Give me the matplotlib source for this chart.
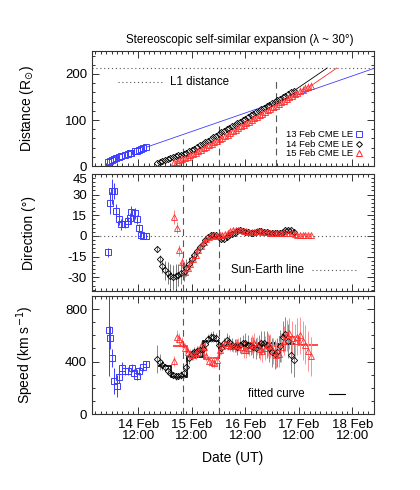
import numpy as np
import matplotlib
matplotlib.use("Agg")
import matplotlib.pyplot as plt
from matplotlib.ticker import MultipleLocator, FixedLocator, NullFormatter

plt.rcParams['font.family'] = ['Liberation Sans', 'DejaVu Sans']

# time axis in days from 13 Feb 00:00 UT
tick_days = [1.5, 2.5, 3.5, 4.5, 5.5]
tick_names = ['14 Feb\n12:00', '15 Feb\n12:00', '16 Feb\n12:00', '17 Feb\n12:00', '18 Feb\n12:00']

# 13 Feb CME (blue squares)
blue_t = [0.926, 0.963, 1.00, 1.04, 1.09, 1.14, 1.18, 1.25, 1.30, 1.34, 1.37, 1.44, 1.47, 1.51, 1.55, 1.59, 1.65]
blue_dist = [8, 11, 13, 15, 17, 19, 21, 23.5, 26, 28, 29.5, 32, 33.5, 35.5, 37, 39, 41]
blue_dir = [-12, 24, 32.5, 32.5, 18, 12, 8.5, 8.5, 11, 13, 17.5, 16.5, 12, 6, 1, 0, 0]
blue_dir_err = [3, 8, 9, 6, 5, 4, 4, 3, 3, 4, 4, 4, 3, 3, 2, 2, 2]
blue_vt = [0.945, 0.975, 1.017, 1.055, 1.10, 1.143, 1.193, 1.255, 1.317, 1.38, 1.423, 1.473, 1.522, 1.585, 1.647]
blue_speed = [642, 583, 425, 252, 216, 285, 354, 331, 328, 349, 311, 293, 328, 361, 380]
blue_speed_err = [350, 90, 70, 100, 85, 50, 40, 30, 30, 30, 30, 35, 30, 30, 25]

# 14 Feb CME (black diamonds), 1.2 h cadence from 1.85
black_t0, black_dt = 1.85, 0.05
black_dist = [7, 9.5, 12, 14, 16, 18, 20, 22, 23.5, 25, 27, 29.5, 32, 35, 38, 41.5, 45, 48.5,
              52, 55.5, 59, 62.5, 66, 69.5, 73, 76, 79.5, 83, 86, 89.5, 93, 96, 99.5, 103, 106.5,
              110, 113, 116.5, 120, 123, 126.5, 130, 133, 136.5, 140, 143, 146.5, 150, 153, 156.5,
              160, 163]
black_dir = [-9.6, -17, -22, -25, -27, -29, -30, -29, -28, -27, -26, -23, -20, -17, -14, -11, -8,
             -5.5, -3, -1, 0.5, 1, 0.5, -1, -2.5, -2, -1, 0.5, 1.5, 2.5, 3.5, 4, 3.5, 3, 3, 2.5,
             2.5, 3, 3.5, 3.5, 3, 3, 2.5, 2.5, 2, 2, 2.5, 3, 4, 4.5, 4, 3]
black_dir_err = [2, 3, 5, 7, 8, 9, 9, 9, 8, 8, 7, 6, 5, 4, 3, 3, 2, 2, 2, 1.5, 1.5, 1.5, 1.5, 1.5,
                 1.5, 1.5, 1.5, 1.5, 1.5, 1.5, 1.5, 1.5, 1.5, 1.5, 1.5, 1.5, 1.5, 1.5, 1.5, 1.5,
                 1.5, 1.5, 1.5, 1.5, 1.5, 1.5, 1.5, 1.5, 1.5, 1.5, 1.5, 1.5]
black_speed = [420, 395, 375, 355, 330, 310, 298, 287, 290, 296, 310, 360, 425, 455, 472, 480,
               485, 498, 535, 570, 588, 590, 580, 527, 500, 540, 565, 552, 530, 520, 510, 525,
               540, 545, 530, 520, 510, 500, 515, 540, 545, 530, 500, 470, 455, 470, 520, 590,
               610, 560, 450, 410]
black_speed_err = [110, 60, 40, 30, 30, 25, 25, 25, 25, 30, 35, 40, 40, 40, 40, 40, 40, 40, 40,
                   40, 40, 40, 40, 40, 40, 40, 50, 50, 50, 50, 60, 60, 60, 70, 70, 70, 80, 80, 90,
                   90, 90, 100, 100, 110, 110, 110, 120, 120, 130, 130, 140, 130]

# 15 Feb CME (red triangles), 1.2 h cadence from 2.17
red_t0, red_dt = 2.17, 0.05
red_dist = [8, 10, 12.5, 15, 17.5, 20.5, 23.5, 26.5, 29.5, 32.5, 35.5, 38.5, 41.5, 45, 48.5, 52,
            55, 58, 61.5, 65, 68.5, 72, 75.5, 79, 82.5, 86, 89.5, 93, 96.5, 100, 103.5, 107,
            110.5, 114, 117.5, 121, 124.5, 128, 131.5, 135, 138.5, 142, 145.5, 149, 152, 155.5,
            159, 162, 165.5, 168.5, 171, 174]
red_dist_err = [6, 6, 6, 7, 7, 7, 7, 7, 7, 7, 7, 7, 7, 7, 7, 7, 7, 7, 7, 7, 7, 7, 7, 7, 7, 7,
                8, 8, 8, 8, 8, 8, 8, 8, 8, 8, 8, 8, 8, 8, 9, 9, 9, 9, 9, 9, 9, 9, 9, 9, 9, 9]
red_dir = [13.7, 5.8, -10.4, -19, -26, -23, -20, -16.5, -13.5, -10, -7, -4.5, -2.5, -1, 0, 0.5,
           0, 0.5, 1, 1.5, 2.5, 3.5, 4, 4.5, 4.5, 4, 3.5, 3.5, 3, 3, 3, 3.5, 3.5, 3, 3, 3, 2.5,
           2.5, 2, 2, 2.5, 2.5, 2, 2, 2, 1.5, 1, 1, 1, 0.5, 0.5, 0.5]
red_dir_err = [5, 4, 4, 4, 4, 3, 3, 3, 3, 2, 2, 2, 2, 1.5, 1.5, 1.5, 1.5, 1.5, 1.5, 1.5, 1.5,
               1.5, 1.5, 1.5, 1.5, 1.5, 1.5, 1.5, 1.5, 1.5, 1.5, 1.5, 1.5, 1.5, 1.5, 1.5, 1.5,
               1.5, 1.5, 1.5, 1.5, 1.5, 1.5, 1.5, 1.5, 1.5, 1.5, 1.5, 1.5, 1.5, 1.5, 1.5]
red_speed = [405, 590, 575, 545, 505, 470, 455, 450, 462, 475, 520, 510, 445, 405, 395, 390, 410,
             490, 520, 540, 530, 520, 515, 525, 530, 510, 490, 485, 500, 530, 545, 520, 495, 480,
             505, 530, 520, 480, 450, 460, 510, 560, 600, 615, 580, 560, 590, 600, 560, 530, 480,
             440]
red_speed_err = [40, 50, 45, 40, 40, 40, 40, 40, 40, 40, 40, 40, 40, 40, 40, 40, 40, 40, 40, 40,
                 40, 40, 40, 50, 50, 50, 60, 60, 60, 70, 70, 70, 80, 80, 90, 90, 90, 100, 100,
                 100, 110, 110, 120, 120, 130, 130, 140, 140, 150, 150, 150, 150]

# extrapolated fits to L1 in the distance panel
l1_dist = 213
blue_fit_t, blue_fit_d = [1.65, 6.0], [41, 216]
black_fit_t, black_fit_d = [4.40, 5.03], [163, 213]
red_fit_t, red_fit_d = [4.72, 5.21], [174, 213]

# fitted speed steps (edges and levels)
black_step_edges = [1.86, 2.12, 2.41, 2.71, 3.00, 3.53, 4.05, 4.42]
black_step_vals = [364, 280, 438, 560, 527, 545, 535]
red_step_edges = [2.14, 2.41, 2.72, 3.00, 3.50, 3.90, 4.15, 4.50, 4.86]
red_step_vals = [519, 470, 425, 515, 540, 522, 590, 527]

# vertical marker times, and their height in the distance panel
mark_t = [2.34, 3.0, 4.08]
mark_h = [59, 95, 191]

dir_ticks = [-30, -15, 0, 15, 30, 45]

BLUE = '#3c3cff'
RED = '#ff2a2a'
GREY = '#555555'

black_t = black_t0 + black_dt * np.arange(len(black_dist))
red_t = red_t0 + red_dt * np.arange(len(red_dist))

fig = plt.figure(figsize=(4.2, 4.9), dpi=100)
ax1 = fig.add_axes([0.219, 0.661, 0.671, 0.235])
ax2 = fig.add_axes([0.219, 0.406, 0.671, 0.239])
ax3 = fig.add_axes([0.219, 0.155, 0.671, 0.241])

for ax in (ax1, ax2, ax3):
    ax.set_xlim(0.635, 5.9)
    ax.xaxis.set_major_locator(FixedLocator(tick_days))
    ax.xaxis.set_minor_locator(MultipleLocator(0.1))
    ax.tick_params(which='both', direction='in', top=True, right=True, width=0.7, labelsize=9.5,
                   color='#333333')
    ax.tick_params(which='major', length=5)
    ax.tick_params(which='minor', length=2.5)
    for s in ax.spines.values():
        s.set_linewidth(0.8)
        s.set_color('#333333')
ax1.xaxis.set_major_formatter(NullFormatter())
ax2.xaxis.set_major_formatter(NullFormatter())
ax3.set_xticklabels(tick_names, linespacing=0.95)

# ---- distance panel
ax1.set_ylim(0, 250)
ax1.yaxis.set_major_locator(MultipleLocator(100))
ax1.yaxis.set_minor_locator(MultipleLocator(20))
ax1.axhline(l1_dist, color=GREY, ls=(0, (1, 2.5)), lw=0.8)
for t, h in zip(mark_t, mark_h):
    ax1.plot([t, t], [0, h], color=GREY, ls=(0, (6, 4)), lw=0.8)
ax1.plot(blue_fit_t, blue_fit_d, color=BLUE, lw=0.6)
ax1.plot(black_fit_t, black_fit_d, color='black', lw=0.6)
ax1.plot(red_fit_t, red_fit_d, color=RED, lw=0.6)
ax1.plot(blue_t, blue_dist, 's', ms=4.5, mfc='none', mec=BLUE, mew=0.7)
ax1.plot(black_t, black_dist, 'D', ms=3.2, mfc='none', mec='black', mew=0.6)
ax1.errorbar(red_t, red_dist, yerr=red_dist_err, fmt='^', ms=4.5, mfc='none', mec=RED, mew=0.6,
             ecolor='#ff8080', elinewidth=0.7, capsize=0)
ax1.set_ylabel('Distance (R$_{\\odot}$)', fontsize=10)
ax1.yaxis.set_label_coords(-0.2, 0.5)
ax1.plot([0.092, 0.247], [0.733, 0.733], transform=ax1.transAxes, color=GREY,
         ls=(0, (1, 2.5)), lw=0.8)
ax1.text(0.277, 0.733, 'L1 distance', transform=ax1.transAxes, fontsize=8.3, va='center')
leg_rows = [('13 Feb CME LE', 's', BLUE, 0.278), ('14 Feb CME LE', 'D', 'black', 0.191),
            ('15 Feb CME LE', '^', RED, 0.110)]
for txt, mk, col, yy in leg_rows:
    ax1.text(0.926, yy, txt, transform=ax1.transAxes, fontsize=6.8, ha='right', va='center')
    ax1.plot([0.947], [yy], mk, transform=ax1.transAxes, ms=4 if mk != 'D' else 3,
             mfc='none', mec=col, mew=0.7)
fig.text(0.571, 0.918, 'Stereoscopic self-similar expansion (\u03bb ~ 30\u00b0)', ha='center',
         va='center', fontsize=8.3)

# ---- direction panel
ax2.set_ylim(-40, 45)
ax2.set_yticks(dir_ticks)
ax2.set_yticklabels([str(v) for v in dir_ticks])
ax2.get_yticklabels()[-1].set_verticalalignment('top')
ax2.yaxis.set_minor_locator(MultipleLocator(3))
ax2.axhline(0, color=GREY, ls=(0, (1, 2.5)), lw=0.8)
for t in mark_t[:2]:
    ax2.axvline(t, color=GREY, ls=(0, (6, 4)), lw=0.8)
ax2.errorbar(blue_t, blue_dir, yerr=blue_dir_err, fmt='s', ms=4.5, mfc='none', mec=BLUE,
             mew=0.7, ecolor=BLUE, elinewidth=0.7, capsize=0)
ax2.errorbar(black_t, black_dir, yerr=black_dir_err, fmt='D', ms=3.2, mfc='none', mec='black',
             mew=0.6, ecolor='#777777', elinewidth=0.7, capsize=0)
ax2.errorbar(red_t, red_dir, yerr=red_dir_err, fmt='^', ms=4.5, mfc='none', mec=RED, mew=0.6,
             ecolor='#ff8080', elinewidth=0.7, capsize=0)
ax2.set_ylabel('Direction (\u00b0)', fontsize=10)
ax2.yaxis.set_label_coords(-0.2, 0.5)
ax2.text(0.492, 0.18, 'Sun-Earth line', transform=ax2.transAxes, fontsize=8.3, va='center')
ax2.plot([0.779, 0.936], [0.18, 0.18], transform=ax2.transAxes, color=GREY,
         ls=(0, (1, 2.5)), lw=0.8)

# ---- speed panel
ax3.set_ylim(0, 900)
ax3.yaxis.set_major_locator(MultipleLocator(400))
ax3.yaxis.set_minor_locator(MultipleLocator(100))
for t in mark_t[:2]:
    ax3.axvline(t, color=GREY, ls=(0, (6, 4)), lw=0.8)
ax3.errorbar(blue_vt, blue_speed, yerr=blue_speed_err, fmt='s', ms=4.5, mfc='none', mec=BLUE,
             mew=0.7, ecolor=BLUE, elinewidth=0.7, capsize=0)
ax3.errorbar(black_t, black_speed, yerr=black_speed_err, fmt='D', ms=3.2, mfc='none',
             mec='black', mew=0.6, ecolor='#888888', elinewidth=0.7, capsize=0)
ax3.errorbar(red_t, red_speed, yerr=red_speed_err, fmt='^', ms=4.5, mfc='none', mec=RED,
             mew=0.6, ecolor='#ff9090', elinewidth=0.7, capsize=0)
ax3.stairs(black_step_vals, black_step_edges, color='black', lw=1.2, baseline=None)
ax3.stairs(red_step_vals, red_step_edges, color=RED, lw=1.2, baseline=None)
ax3.set_ylabel('Speed (km s$^{-1}$)', fontsize=10)
ax3.yaxis.set_label_coords(-0.2, 0.5)
ax3.text(0.552, 0.17, 'fitted curve', transform=ax3.transAxes, fontsize=8.3, va='center')
ax3.plot([0.84, 0.897], [0.17, 0.17], transform=ax3.transAxes, color='black', lw=0.8)
ax3.set_xlabel('Date (UT)', fontsize=10)
ax3.xaxis.set_label_coords(0.5, -0.31)

fig.savefig('out.png', dpi=100)
